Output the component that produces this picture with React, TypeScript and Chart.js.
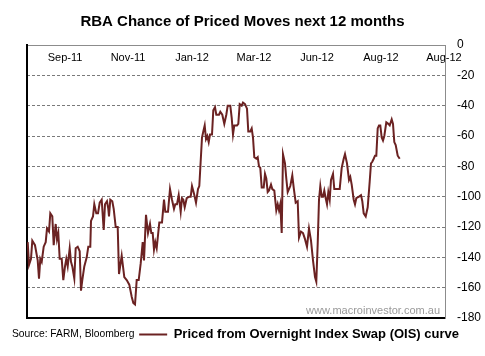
import React, { useEffect, useRef } from "react";
import { Chart, registerables } from "chart.js";

Chart.register(...registerables);

const chartTitle = "RBA Chance of Priced Moves next 12 months";
const seriesLabel = "Priced from Overnight Index Swap (OIS) curve";
const sourceText = "Source: FARM, Bloomberg";
const watermarkText = "www.macroinvestor.com.au";

// trading-day position along the axis (0 .. 418)
const days = [
  0.7, 2, 4, 5.3, 8, 10.7, 12, 13.3, 14.7, 16.7, 18.7, 20, 22, 23.3, 25.3, 26.7, 28.7, 30, 31.3, 32.7,
  34.7, 36.3, 38, 39.3, 40.7, 42.7, 44, 45.3, 47.3, 48.7, 50.7, 52.7, 54, 55.3, 57.3, 59.7, 61.3, 63.3, 64, 66,
  67.3, 69.3, 71, 72.7, 74.7, 76.7, 78, 80, 81.3, 82, 83.3, 85.3, 86.7, 88.7, 90.7, 92, 94.7, 97.3, 99.7, 102.3,
  104.7, 106.3, 108, 109.7, 111.7, 113.7, 115.7, 117, 119, 121, 123, 124.3, 125.7, 127, 128.3, 129.7, 132.3, 135, 137, 138.3,
  141, 143, 145, 147, 148.3, 150, 151.7, 153.7, 155, 156.3, 157.7, 159.7, 162.3, 163.7, 165, 167, 169, 171, 172.3, 175,
  176.3, 177.7, 179, 180.3, 181.7, 183, 185, 186.3, 188, 189.3, 192, 193.3, 195.3, 197.3, 199.3, 200.7, 203.3, 204.7, 206, 207.3,
  210, 211.3, 212.7, 214.7, 216, 218, 220, 221.3, 223.3, 224.7, 226, 227.3, 229.3, 230.7, 232, 233.3, 234.7, 236.7, 238, 239.3,
  240.7, 242, 244, 245.3, 247.3, 249.3, 250.7, 252, 253.3, 254.7, 256, 258, 259.3, 260.7, 263.3, 265.3, 266.7, 268.7, 270.7, 272,
  274, 276, 278, 280, 282, 284, 286, 288, 289.3, 290.7, 292, 293.3, 294.7, 296, 297.3, 298.7, 300, 301.3, 302.7, 304,
  306, 307.3, 310, 312.7, 314.7, 316.7, 318, 320, 322, 323.3, 324.7, 326.7, 328, 329.3, 332, 334, 335.3, 336.7, 338.7, 340.7,
  342.7, 344, 345.3, 346.7, 348, 349.3, 350.7, 352, 353.3, 354.7, 356, 357.3, 359.3, 361.3, 362.7, 364.7, 366, 367.3, 368.7, 370.7,
  372.7,
];

const priced = [
  -130, -145, -141, -129, -132, -142, -154, -141, -143, -133, -130, -121, -123, -111, -113, -132, -118, -128, -124, -141,
  -141, -155, -146, -141, -146, -134, -143, -146, -154, -134, -133, -136, -162, -155, -146, -140, -133, -133, -116, -113,
  -105, -111, -111, -104, -102, -122, -105, -103, -108, -113, -102, -103, -108, -120, -120, -151, -139, -153, -155, -158,
  -166, -170, -171, -155, -155, -144, -130, -142, -112, -124, -118, -124, -124, -135, -130, -134, -117, -117, -102, -110,
  -110, -95, -102, -108, -105, -105, -99, -110, -101, -102, -107, -101, -100, -100, -93, -98, -104, -95, -93, -61,
  -57, -53, -62, -60, -64, -59, -59, -43, -41, -46, -46, -44, -46, -52, -46, -40, -40, -48, -59, -53,
  -53, -52, -39, -40, -38, -39, -42, -57, -57, -55, -61, -74, -75, -74, -80, -81, -94, -94, -85, -88,
  -97, -96, -92, -95, -96, -109, -105, -109, -105, -124, -72, -78, -88, -97, -93, -86, -94, -104, -103, -127,
  -123, -124, -128, -133, -121, -129, -142, -153, -156, -131, -102, -93, -100, -100, -96, -101, -105, -97, -102, -89,
  -85, -95, -95, -95, -81, -75, -72, -78, -89, -87, -92, -102, -105, -101, -100, -99, -103, -111, -113, -107,
  -90, -78, -77, -75, -73, -73, -55, -53, -53, -61, -63, -60, -51, -52, -53, -49, -52, -64, -66, -73,
  -75,
];

const tickDays = [38, 101, 165, 227, 290, 354, 417];
const tickLabels = ["Sep-11", "Nov-11", "Jan-12", "Mar-12", "Jun-12", "Aug-12", "Aug-12"];

const xMin = 0;
const xMax = 418;
const yMin = -180;
const yMax = 0;
const yStep = 20;

const lineColor = "#6b2222";
const FONT = "'Liberation Sans', Arial, sans-serif";

export default function App() {
  const ref = useRef<HTMLCanvasElement>(null);

  useEffect(() => {
    const watermark = {
      id: "watermark",
      afterDatasetsDraw(chart: any) {
        const { ctx, chartArea } = chart;
        ctx.save();
        ctx.font = `11px ${FONT}`;
        ctx.fillStyle = "#9a9a9a";
        ctx.textAlign = "right";
        ctx.textBaseline = "middle";
        ctx.fillText(watermarkText, chartArea.right - 5, chartArea.bottom - 7);
        ctx.restore();
      },
    };
    // let the right-hand tick labels use the space up to the canvas edge
    const widenRightAxis = {
      id: "widenRightAxis",
      afterLayout(chart: any) {
        const y = chart.scales.y;
        if (y) y.right = chart.width;
      },
    };

    const chart = new Chart(ref.current as HTMLCanvasElement, {
      type: "line",
      data: {
        datasets: [
          {
            label: seriesLabel,
            data: days.map((d, i) => ({ x: d, y: priced[i] })),
            borderColor: lineColor,
            backgroundColor: lineColor,
            borderWidth: 2,
            pointRadius: 0,
            tension: 0,
            xAxisID: "x",
            yAxisID: "y",
          },
        ],
      },
      options: {
        animation: false,
        responsive: false,
        maintainAspectRatio: false,
        layout: { padding: { left: 16, right: 16, top: 0, bottom: 5 } },
        plugins: {
          title: {
            display: true,
            text: chartTitle,
            color: "#000",
            font: { family: FONT, weight: "bold", size: 15 },
            padding: { top: 13, bottom: 14 },
          },
          legend: {
            position: "bottom",
            align: "end",
            labels: {
              usePointStyle: true,
              pointStyle: "line",
              pointStyleWidth: 28,
              boxHeight: 2,
              padding: 10,
              color: "#000",
              font: { family: FONT, weight: "bold", size: 13 },
            },
          },
          tooltip: { enabled: false },
        },
        scales: {
          x: {
            type: "linear",
            position: "top",
            min: xMin,
            max: xMax,
            afterBuildTicks: (s: any) => {
              s.ticks = tickDays.map((v) => ({ value: v }));
            },
            afterFit: (s: any) => {
              s.height = 0;
            },
            ticks: {
              mirror: true,
              padding: 6,
              autoSkip: false,
              maxRotation: 0,
              color: "#000",
              font: { family: FONT, size: 11 },
              callback: (_v: any, i: number) => tickLabels[i],
            },
            grid: { display: false, drawTicks: false },
            border: { display: true, color: "#8c8c8c", width: 1 },
          },
          xb: {
            type: "linear",
            position: "bottom",
            min: xMin,
            max: xMax,
            afterFit: (s: any) => {
              s.height = 0;
            },
            ticks: { display: false },
            grid: { display: false, drawTicks: false },
            border: { display: true, color: "#000", width: 2 },
          },
          yl: {
            type: "linear",
            position: "left",
            min: yMin,
            max: yMax,
            afterFit: (s: any) => {
              s.width = 11;
            },
            ticks: { display: false },
            grid: { display: false, drawTicks: false },
            border: { display: true, color: "#000", width: 2 },
          },
          y: {
            type: "linear",
            position: "right",
            min: yMin,
            max: yMax,
            afterFit: (s: any) => {
              s.width = 24;
            },
            ticks: {
              stepSize: yStep,
              padding: 12,
              color: "#000",
              font: { family: FONT, size: 12 },
            },
            grid: {
              drawTicks: false,
              lineWidth: 1,
              color: (c: any) =>
                c.tick && (c.tick.value === yMax || c.tick.value === yMin) ? "rgba(0,0,0,0)" : "#7a7a7a",
            },
            border: { display: true, color: "#8c8c8c", width: 1, dash: [3, 2] },
          },
        },
      } as any,
      plugins: [watermark, widenRightAxis],
    });
    return () => chart.destroy();
  }, []);

  return (
    <div style={{ position: "fixed", left: 0, top: 0, width: 485, height: 356, background: "#fff" }}>
      <canvas ref={ref} width={485} height={356} style={{ display: "block", width: 485, height: 356 }} />
      <div
        style={{
          position: "absolute",
          left: 12,
          top: 326,
          fontFamily: FONT,
          fontSize: 10.3,
          lineHeight: "16px",
          color: "#000",
          whiteSpace: "nowrap",
        }}
      >
        {sourceText}
      </div>
    </div>
  );
}
